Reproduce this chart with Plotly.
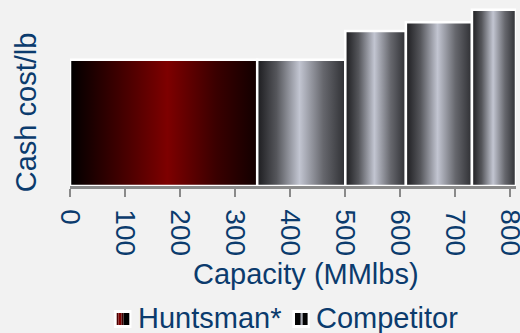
import plotly.graph_objects as go

# Cost curve data: capacity blocks (MMlbs) and cash cost per lb
producers = ["Huntsman*", "Competitor", "Competitor", "Competitor", "Competitor"]
capacity = [340, 160, 110, 120, 80]
cash_cost = [50.5, 50.5, 62.0, 65.5, 70.5]
tick_values = [0, 100, 200, 300, 400, 500, 600, 700, 800]

TEXT = "#0b3b6d"
BG = "#f2f2f2"
FONT = "Liberation Sans, Arial, Helvetica, sans-serif"

RED_SCALE = [[0.0, "#000000"], [0.25, "#3c0000"], [0.52, "#7e0000"],
             [0.78, "#3a0000"], [1.0, "#120000"]]
GRAY_SCALE = [[0.0, "#1c1c1f"], [0.22, "#55565b"], [0.48, "#c2c5d1"],
              [0.75, "#66676d"], [1.0, "#2e2f33"]]

# figure geometry (pixels)
W, H = 520, 333
ML, MR, MT, MB = 70, 4, 8, 147
PW, PH = W - ML - MR, H - MT - MB


def px(x):
    return (x - ML) / PW


def py(y):
    return (H - MB - y) / PH


fig = go.Figure()

left = 0
for name, width, cost in zip(producers, capacity, cash_cost):
    right = left + width
    scale = RED_SCALE if name.startswith("Huntsman") else GRAY_SCALE
    fig.add_trace(go.Scatter(
        x=[left, left, right, right, left],
        y=[0, cost, cost, 0, 0],
        mode="lines",
        fill="toself",
        fillgradient=dict(type="horizontal", colorscale=scale),
        line=dict(color="white", width=2.5),
        name=name,
        showlegend=False,
        hoverinfo="skip",
    ))
    left = right

shapes = []


def legend_symbol(x0, stripes):
    # white-framed square swatch followed by vertical colour stripes
    shapes.append(dict(type="rect", xref="paper", yref="paper",
                       x0=px(x0), x1=px(x0 + 17.5), y0=py(328), y1=py(310),
                       fillcolor="white", line=dict(width=0)))
    for a, b, c in stripes:
        shapes.append(dict(type="rect", xref="paper", yref="paper",
                           x0=px(x0 + a), x1=px(x0 + b), y0=py(325), y1=py(313),
                           fillcolor=c, line=dict(width=0)))


legend_symbol(114, [(2.7, 4.5, "#4a0000"), (4.5, 7.5, "#7e0000"),
                    (7.5, 9.5, "#3a0000"), (9.5, 15.3, "#000000")])
legend_symbol(292.3, [(2.7, 7.7, "#050505"), (7.7, 8.7, "#5a5a60"),
                      (8.7, 10.0, "#a8abb5"), (10.0, 10.7, "#505055"),
                      (10.7, 15.3, "#050505")])

annotations = [
    dict(text="Cash cost/lb", textangle=-90, xref="paper", yref="paper",
         x=px(26.7), y=py(112.5), xanchor="center", yanchor="middle",
         showarrow=False, font=dict(size=29, color=TEXT, family=FONT)),
    dict(text="Capacity (MMlbs)", xref="paper", yref="paper",
         x=px(305.5), y=py(274), xanchor="center", yanchor="middle",
         showarrow=False, font=dict(size=29, color=TEXT, family=FONT)),
    dict(text="Huntsman*", xref="paper", yref="paper",
         x=px(135.5), y=py(318), xanchor="left", yanchor="middle",
         showarrow=False, font=dict(size=29, color=TEXT, family=FONT)),
    dict(text="Competitor", xref="paper", yref="paper",
         x=px(313.5), y=py(318), xanchor="left", yanchor="middle",
         showarrow=False, font=dict(size=29, color=TEXT, family=FONT)),
]

fig.update_layout(
    width=W, height=H, autosize=False,
    margin=dict(l=ML, r=MR, t=MT, b=MB, pad=0, autoexpand=False),
    paper_bgcolor=BG, plot_bgcolor=BG,
    font=dict(family=FONT, color=TEXT, size=28),
    showlegend=False,
    shapes=shapes,
    annotations=annotations,
)
fig.update_xaxes(
    range=[0, sum(capacity)], tickvals=tick_values, tickangle=90,
    showgrid=False, zeroline=False, automargin=False,
    showline=True, linecolor="#8a8a8a", linewidth=2.5,
    ticks="outside", ticklen=8, tickwidth=2, tickcolor="#8a8a8a",
    tickfont=dict(size=28, color=TEXT, family=FONT),
    ticklabeloverflow="allow", ticklabelstandoff=7,
)
fig.update_yaxes(
    range=[0, 71.2], visible=False, showgrid=False, zeroline=False,
    automargin=False,
)

fig.write_html("out.html")
